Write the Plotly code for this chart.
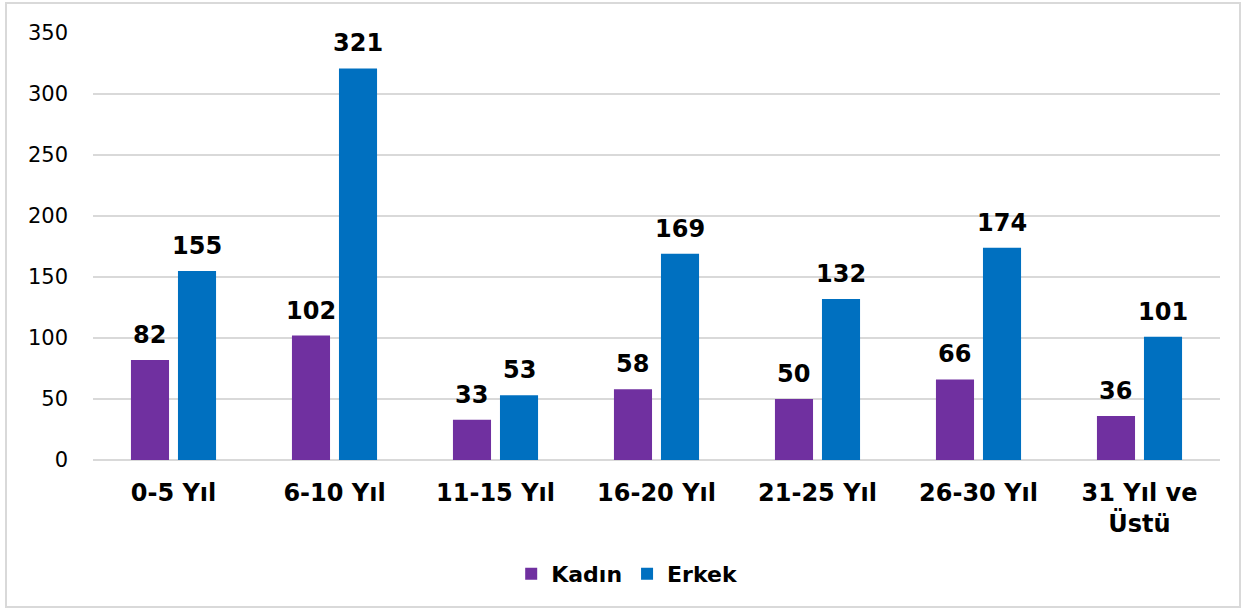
import plotly.graph_objects as go

categories = ["0-5 Yıl", "6-10 Yıl", "11-15 Yıl", "16-20 Yıl", "21-25 Yıl", "26-30 Yıl", "31 Yıl ve<br>Üstü"]
kadin = [82, 102, 33, 58, 50, 66, 36]
erkek = [155, 321, 53, 169, 132, 174, 101]
y_ticks = [0, 50, 100, 150, 200, 250, 300, 350]

PURPLE = "#7030A0"
BLUE = "#0070C0"
FONT = "Verdana, DejaVu Sans, sans-serif"
BOLD_SIZE = 24

fig = go.Figure()
fig.add_trace(go.Bar(name="Kadın", x=categories, y=kadin, offsetgroup="k",
                     marker=dict(color=PURPLE, line=dict(width=0))))
fig.add_trace(go.Bar(name="Erkek", x=categories, y=erkek, offsetgroup="e",
                     marker=dict(color=BLUE, line=dict(width=0))))

W, H = 1247, 610
L, R, T, B = 93, 27, 33, 150
pw, ph = W - L - R, H - T - B

def px_x(x):
    return (x - L) / pw

def px_y(y):
    return (H - B - y) / ph

# data labels as annotations positioned by the axes (category index + offset within the group)
slot = (1 - 0.416) / 2
annotations = []
for i, (k, e) in enumerate(zip(kadin, erkek)):
    for v, off in ((k, -slot / 2), (e, slot / 2)):
        annotations.append(dict(x=i + off, y=v, xref="x", yref="y", text=str(v), showarrow=False,
                                yanchor="bottom", yshift=9,
                                font=dict(family=FONT, size=BOLD_SIZE, color="#000000", weight="bold")))

fig.update_layout(
    width=W, height=H,
    margin=dict(l=L, r=R, t=T, b=B),
    paper_bgcolor="white", plot_bgcolor="white",
    barmode="group", bargap=0.416, bargroupgap=0.19,
    font=dict(family=FONT, size=21, color="#000000"),
    showlegend=True,
    legend=dict(orientation="h", x=0.474, xanchor="center", y=px_y(574), yanchor="middle",
                font=dict(family=FONT, size=22, color="#000000", weight="bold"),
                itemwidth=30, tracegroupgap=0),
    annotations=annotations,
    shapes=[dict(type="rect", xref="paper", yref="paper",
                 x0=px_x(6), x1=px_x(1240), y0=px_y(607), y1=px_y(3),
                 line=dict(color="#D9D9D9", width=2), fillcolor="rgba(0,0,0,0)", layer="below")],
)
fig.update_yaxes(range=[0, 350], tickvals=y_ticks, showgrid=True, gridcolor="#D9D9D9", gridwidth=1.5,
                 zeroline=True, zerolinecolor="#D9D9D9", zerolinewidth=1.5, showline=False,
                 tickfont=dict(family=FONT, size=21, color="#000000"), ticks="", ticklabelstandoff=24)
fig.update_xaxes(showgrid=False, showline=False, ticks="",
                 tickfont=dict(family=FONT, size=BOLD_SIZE, color="#000000", weight="bold"),
                 ticklabelstandoff=16)

fig.write_html("out.html", config={"displayModeBar": False},
               post_script="document.body.style.margin='0';document.body.style.overflow='hidden';")
